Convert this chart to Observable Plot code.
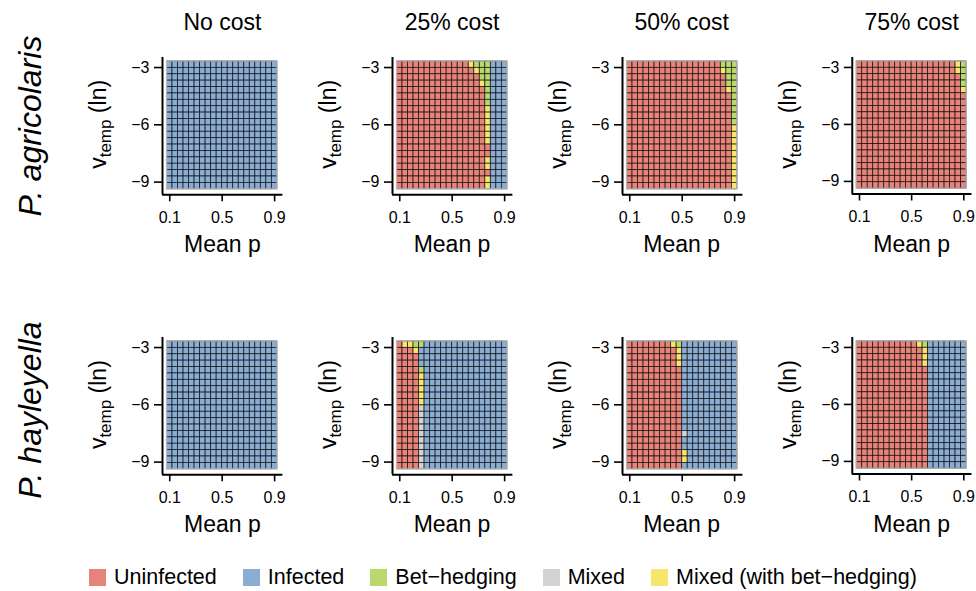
<!DOCTYPE html>
<html><head><meta charset="utf-8">
<script src="https://cdn.jsdelivr.net/npm/d3@7"></script>
<script src="https://cdn.jsdelivr.net/npm/@observablehq/plot@0.6"></script>
<style>
html,body{margin:0;padding:0;background:#fff;}
#root{position:relative;width:976px;height:591px;overflow:hidden;font-family:"Liberation Sans",Arial,Helvetica,sans-serif;color:#000;}
.panel{position:absolute;}
#legend{position:absolute;left:89px;top:567px;height:20px;display:flex;align-items:center;gap:26px;font-size:21.5px;white-space:nowrap;}
.leg{display:flex;align-items:center;}
.sw{width:17px;height:17px;margin-right:8px;box-sizing:border-box;}
</style></head><body><div id="root"></div>
<script>
// ---------- data ----------
const species = ["P. agricolaris", "P. hayleyella"];
const costs = ["No cost", "25% cost", "50% cost", "75% cost"];
const codes = ["U", "I", "B", "M", "Y"];
const categories = ["Uninfected", "Infected", "Bet\u2212hedging", "Mixed", "Mixed (with bet\u2212hedging)"];
const colors = ["#E8837A", "#8BADD4", "#B9D86E", "#D3D3D3", "#F7E56E"];

// grid coordinates: mean p (columns) and ln v_temp (rows, bottom to top)
const pValues = [0.1, 0.1421, 0.1842, 0.2263, 0.2684, 0.3105, 0.3526, 0.3947, 0.4368, 0.4789,
                 0.5211, 0.5632, 0.6053, 0.6474, 0.6895, 0.7316, 0.7737, 0.8158, 0.8579, 0.9];
const vValues = [-9.21, -8.875, -8.54, -8.206, -7.871, -7.536, -7.202, -6.867, -6.532, -6.197,
                 -5.863, -5.528, -5.193, -4.859, -4.524, -4.189, -3.854, -3.52, -3.185, -2.85];
const xTicks = [0.1, 0.5, 0.9];
const yTicks = [-3, -6, -9];

// each row (top to bottom) as run-lengths of outcome codes, left to right
const agrNo = ["20I","20I","20I","20I","20I","20I","20I","20I","20I","20I",
               "20I","20I","20I","20I","20I","20I","20I","20I","20I","20I"];
const agr25 = ["13U1Y3B3I","14U1Y2B3I","15U2B3I","15U1Y1B3I","16U1B3I","16U1B3I","16U1B3I","16U1Y3I","16U1Y3I","16U1Y3I",
               "16U1Y3I","16U1Y3I","16U1Y3I","17U3I","17U3I","16U1Y3I","16U1Y3I","17U3I","16U1Y3I","16U1Y3I"];
const agr50 = ["17U3B","17U1Y2B","18U2B","18U2B","18U1Y1B","19U1B","19U1B","19U1B","19U1B","19U1B",
               "19U1Y","19U1Y","19U1Y","19U1Y","19U1Y","19U1Y","19U1Y","19U1Y","19U1Y","19U1Y"];
const agr75 = ["18U1Y1B","18U1Y1B","19U1B","19U1B","19U1Y","20U","20U","20U","20U","20U",
               "20U","20U","20U","20U","20U","20U","20U","20U","20U","20U"];
const hayNo = ["20I","20I","20I","20I","20I","20I","20I","20I","20I","20I",
               "20I","20I","20I","20I","20I","20I","20I","20I","20I","20I"];
const hay25 = ["1U2Y2B15I","3U1Y16I","4U16I","4U16I","4U1B15I","4U1Y15I","4U1Y15I","4U1Y15I","4U1Y15I","4U1Y15I",
               "4U1M15I","4U1M15I","4U1M15I","4U1M15I","4U1M15I","4U1M15I","4U1M15I","4U1M15I","4U1M15I","4U1M15I"];
const hay50 = ["8U1Y1B10I","9U1Y10I","9U1Y10I","9U1Y10I","10U10I","10U10I","10U10I","10U10I","10U10I","10U10I",
               "10U10I","10U10I","10U10I","10U10I","10U1M9I","10U10I","10U10I","10U1Y9I","10U1Y9I","10U10I"];
const hay75 = ["11U1Y1B7I","12U1Y7I","12U1Y7I","12U1Y7I","13U7I","13U7I","13U7I","13U7I","13U7I","13U7I",
               "13U7I","13U7I","13U7I","13U7I","13U7I","13U7I","13U7I","13U7I","13U7I","13U7I"];
const panels = [[agrNo, agr25, agr50, agr75], [hayNo, hay25, hay50, hay75]];

// ---------- layout ----------
const panelLeft = [117.2, 346.8, 576.5, 806.5];
const panelTop = [51.7, 332];
const mL = 45, mR = 5, mT = 5, mB = 30;
const xDomain = [0.0446, 0.963], yDomain = [-9.665, -2.474];
const innerW = 120.4, innerH = 137.3;

const colorOf = Object.fromEntries(codes.map((c, i) => [c, colors[i]]));
const dx = pValues[1] - pValues[0], dy = vValues[1] - vValues[0];

function decode(rows) {
  const cells = [];
  rows.forEach((row, r) => {
    let c = 0;
    for (const m of row.matchAll(/(\d+)([A-Z])/g)) {
      for (let k = 0; k < +m[1]; k++, c++) {
        cells.push({p: pValues[c], v: vValues[vValues.length - 1 - r], cat: m[2]});
      }
    }
  });
  return cells;
}

const root = document.getElementById("root");
const font = '"Liberation Sans", Arial, Helvetica, sans-serif';

panels.forEach((rowPanels, ri) => {
  rowPanels.forEach((rows, ci) => {
    const cells = decode(rows);
    const ext = [{x1: d3.min(pValues) - dx / 2, x2: d3.max(pValues) + dx / 2,
                  y1: d3.min(vValues) - dy / 2, y2: d3.max(vValues) + dy / 2}];
    const chart = Plot.plot({
      width: mL + innerW + mR, height: mT + innerH + mB,
      marginLeft: mL, marginRight: mR, marginTop: mT, marginBottom: mB,
      style: {fontFamily: font, fontSize: "16px", background: "transparent", overflow: "visible"},
      x: {domain: xDomain, axis: null},
      y: {domain: yDomain, axis: null},
      marks: [
        Plot.rect(cells, {x1: d => d.p - dx / 2, x2: d => d.p + dx / 2, y1: d => d.v - dy / 2, y2: d => d.v + dy / 2,
          fill: d => colorOf[d.cat], stroke: "#000", strokeOpacity: 0.78, strokeWidth: 0.8}),
        Plot.rect(ext, {x1: "x1", x2: "x2", y1: "y1", y2: "y2", fill: "none", stroke: "#b8b8b8", strokeWidth: 1.2}),
        Plot.axisX({ticks: xTicks, tickSize: 7, tickPadding: 10, tickFormat: d3.format(".1f"), label: null,
          color: "#000", strokeWidth: 1.6, fontSize: 16}),
        Plot.axisY({ticks: yTicks, tickSize: 8, tickPadding: 5, tickFormat: d => d3.format("d")(d), label: null,
          color: "#000", strokeWidth: 1.6, fontSize: 16}),
        Plot.ruleX([xDomain[0]], {y1: yDomain[0], y2: yDomain[1], stroke: "#000", strokeWidth: 2}),
        Plot.ruleY([yDomain[0]], {x1: xDomain[0], x2: xDomain[1], stroke: "#000", strokeWidth: 2})
      ]
    });
    const div = document.createElement("div");
    div.className = "panel";
    div.style.left = panelLeft[ci] + "px";
    div.style.top = panelTop[ri] + "px";
    div.appendChild(chart);
    root.appendChild(div);
  });
});

// ---------- text overlay ----------
const svg = d3.select(root).append("svg")
  .attr("width", 976).attr("height", 591)
  .style("position", "absolute").style("left", 0).style("top", 0)
  .style("pointer-events", "none").style("font-family", font);

costs.forEach((c, ci) => {
  const cx = panelLeft[ci] + mL + innerW / 2;
  svg.append("text").attr("x", cx).attr("y", 30).attr("text-anchor", "middle")
    .attr("font-size", 23).text(c);
});
species.forEach((s, ri) => {
  const cy = [126, 410][ri];
  svg.append("text").attr("transform", `translate(41,${cy}) rotate(-90)`)
    .attr("text-anchor", "middle").attr("font-size", 32).attr("font-style", "italic").text(s);
  costs.forEach((c, ci) => {
    const left = panelLeft[ci] + mL;
    const top = panelTop[ri] + mT;
    // y-axis title
    const t = svg.append("text").attr("transform", `translate(${left - 56},${top + innerH / 2 - 1}) rotate(-90)`)
      .attr("text-anchor", "middle").attr("font-size", 23);
    t.append("tspan").text("v");
    t.append("tspan").attr("dy", 5).attr("font-size", 17).text("temp");
    t.append("tspan").attr("dy", -5).text(" (ln)");
    // x-axis title
    svg.append("text").attr("x", left + innerW / 2).attr("y", top + innerH + 58)
      .attr("text-anchor", "middle").attr("font-size", 23).text("Mean p");
  });
});

// ---------- legend ----------
const legend = document.createElement("div");
legend.id = "legend";
categories.forEach((cat, i) => {
  const item = document.createElement("div");
  item.className = "leg";
  const sw = document.createElement("div");
  sw.className = "sw";
  sw.style.background = colors[i];
  item.appendChild(sw);
  const lab = document.createElement("span");
  lab.textContent = cat;
  item.appendChild(lab);
  legend.appendChild(item);
});
root.appendChild(legend);
</script></body></html>
